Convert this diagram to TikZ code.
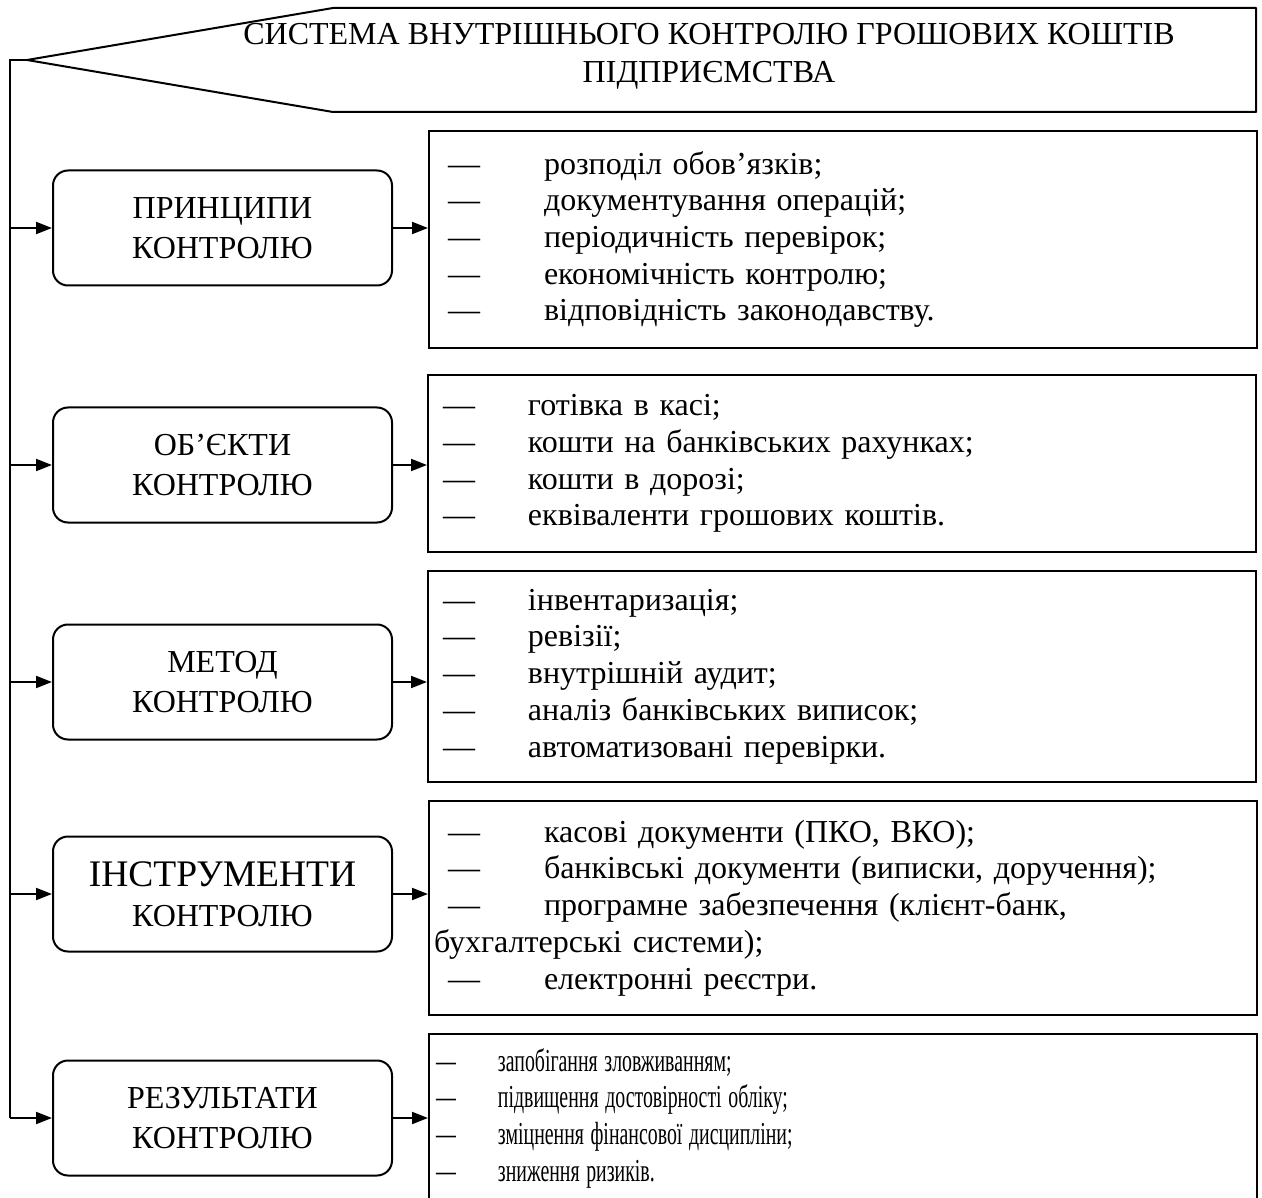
\documentclass[tikz,border=0pt]{standalone}
\usepackage{fontspec}
\setmainfont{Liberation Serif}
\usetikzlibrary{arrows.meta}
\tikzset{
ctrl/.style={draw, line width=2pt, rounded corners=15pt, minimum width=339pt, minimum height=115pt, inner sep=0pt, align=center, font=\fontsize{32}{40}\selectfont},
items/.style={draw, line width=2pt, anchor=north west, text width=828pt, inner sep=0pt, align=left, font=\fontsize{32}{36.7}\selectfont},
arr/.style={line width=2pt, -{Triangle[length=16pt,width=12pt]}}
}
\newcommand{\itm}[1]{\hspace*{19pt}\makebox[96pt][l]{—}#1}
\newcommand{\itmb}[1]{\hspace*{15pt}\makebox[85pt][l]{—}#1}

\begin{document}
\begin{tikzpicture}[x=1pt, y=-1pt]
\useasboundingbox (0,0) rectangle (1262,1198);

% title callout
\coordinate (tip) at (27,60);
\coordinate (top) at (10,60);
\draw[line width=2pt, line join=bevel] (tip) -- (333,8) -- (1256,8) -- (1256,112) -- (333,112) -- cycle;
\node[align=center, font=\fontsize{32}{38}\selectfont] (sys) at (709,56) {СИСТЕМА ВНУТРІШНЬОГО КОНТРОЛЮ ГРОШОВИХ КОШТІВ\\ПІДПРИЄМСТВА};

% left column
\node[ctrl] (pr) at (222.5,228) {ПРИНЦИПИ\\КОНТРОЛЮ};
\node[ctrl] (ob) at (222.5,465) {ОБ’ЄКТИ\\КОНТРОЛЮ};
\node[ctrl] (me) at (222.5,682) {МЕТОД\\КОНТРОЛЮ};
\node[ctrl] (in) at (222.5,894) {{\fontsize{37.5}{40}\selectfont ІНСТРУМЕНТИ}\\КОНТРОЛЮ};
\node[ctrl] (re) at (222.5,1118) {РЕЗУЛЬТАТИ\\КОНТРОЛЮ};

% right column
\node[items, minimum height=217pt] (l1) at (428,130) {
\itm{розподіл обов’язків;}\\
\itm{документування операцій;}\\
\itm{періодичність перевірок;}\\
\itm{економічність контролю;}\\
\itm{відповідність законодавству.}};
\node[items, minimum height=177pt] (l2) at (427,374) {
\itmb{готівка в касі;}\\
\itmb{кошти на банківських рахунках;}\\
\itmb{кошти в дорозі;}\\
\itmb{еквіваленти грошових коштів.}};
\node[items, minimum height=211pt] (l3) at (427,570) {
\itmb{інвентаризація;}\\
\itmb{ревізії;}\\
\itmb{внутрішній аудит;}\\
\itmb{аналіз банківських виписок;}\\
\itmb{автоматизовані перевірки.}};
\node[items, minimum height=214pt] (l4) at (428,800) {
\itm{касові документи (ПКО, ВКО);}\\
\itm{банківські документи (виписки, доручення);}\\
\itm{програмне забезпечення (клієнт-банк,}\\
\hspace*{5pt}бухгалтерські системи);\\
\itm{електронні реєстри.}};
\node[items, minimum height=170pt] (l5) at (428,1033) {\hspace*{7pt}\scalebox{0.62}[1]{\begin{tabular}{@{}l@{}l@{}}
\makebox[100pt][l]{—} & запобігання зловживанням;\\
— & підвищення достовірності обліку;\\
— & зміцнення фінансової дисципліни;\\
— & зниження ризиків.
\end{tabular}}};

% spine
\draw[line width=2pt] (tip) -- (top) -- (top |- re.west);
\draw[arr] (top |- pr.west) -- (pr.west);
\draw[arr] (top |- ob.west) -- (ob.west);
\draw[arr] (top |- me.west) -- (me.west);
\draw[arr] (top |- in.west) -- (in.west);
\draw[arr] (top |- re.west) -- (re.west);

\draw[arr] (pr.east) -- (pr.east -| l1.west);
\draw[arr] (ob.east) -- (ob.east -| l2.west);
\draw[arr] (me.east) -- (me.east -| l3.west);
\draw[arr] (in.east) -- (in.east -| l4.west);
\draw[arr] (re.east) -- (re.east -| l5.west);
\end{tikzpicture}
\end{document}
